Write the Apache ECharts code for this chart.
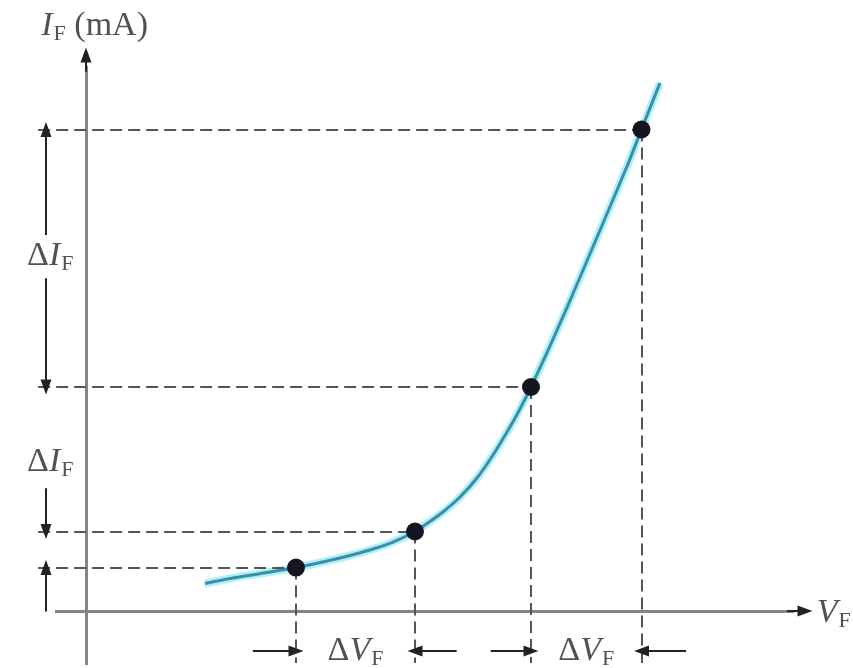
<!DOCTYPE html>
<html>
<head>
<meta charset="utf-8">
<script src="https://cdn.jsdelivr.net/npm/echarts@6/dist/echarts.min.js"></script>
<style>html,body{margin:0;padding:0;background:#fff}#c{width:853px;height:668px}</style>
</head>
<body>
<div id="c"></div>
<script>
// Diode forward characteristic (arbitrary units)
const curveV = [16.55, 20.45, 25.17, 29.21, 33.52, 36.72, 39.92, 42.70, 45.76, 47.84, 49.65, 52.02, 54.38, 56.61, 58.97, 60.36, 61.89, 64.53, 67.59, 71.21, 75.38, 77.26, 79.83];
const curveI = [4.95, 5.94, 6.92, 7.82, 8.99, 9.98, 11.15, 12.41, 14.30, 16.10, 17.81, 20.50, 23.92, 28.06, 33.09, 36.33, 40.29, 47.66, 56.65, 67.63, 80.40, 86.60, 94.96];
const pointV = [29.21, 45.76, 61.89, 77.26];
const pointI = [7.82, 14.30, 40.29, 86.60];
const axisTitleY = 'I_F (mA)';
const axisTitleX = 'V_F';
const deltaI = 'ΔI_F';
const deltaV = 'ΔV_F';

const X_MIN = -6.95, X_MAX = 100, Y_MIN = -9.71, Y_MAX = 100;
const Y_GUIDE_BOTTOM = -9.35;
const X_ARROW_I = -5.56;   // vertical ΔI arrows
const Y_ARROW_V = -7.2;    // horizontal ΔV arrows

const curve = curveV.map((v, i) => [v, curveI[i]]);
const pts = pointV.map((v, i) => [v, pointI[i]]);

const serif = '"Liberation Serif","DejaVu Serif",serif';
const txt = '#262626';
const rich = {
  d: {fontFamily: serif, fontSize: 34, color: txt},
  i: {fontFamily: serif, fontSize: 34, fontStyle: 'italic', color: txt},
  s: {fontFamily: serif, fontSize: 22, color: txt, padding: [16, 0, 0, 1]},
  n: {fontFamily: serif, fontSize: 34, color: txt}
};
function fmt(t) {
  let out = '';
  const m = t.match(/^(Δ?)([A-Z])_([A-Z])(.*)$/);
  if (m) {
    if (m[1]) out += '{d|Δ}';
    out += '{i|' + m[2] + '}{s|' + m[3] + '}';
    if (m[4]) out += '{n|' + m[4] + '}';
  }
  return out;
}

// guide (dashed) lines
const guides = [];
pts.forEach(p => {
  guides.push([{coord: [X_MIN + 0.3, p[1]]}, {coord: [p[0], p[1]]}]);
  guides.push([{coord: [p[0], p[1]]}, {coord: [p[0], Y_GUIDE_BOTTOM]}]);
});

// annotation arrows
const [p1, p2, p3, p4] = pts;
const arrows = [
  [{coord: [X_ARROW_I, (p3[1] + p4[1]) / 2 + 4.2]}, {coord: [X_ARROW_I, p4[1]]}],
  [{coord: [X_ARROW_I, (p3[1] + p4[1]) / 2 - 3.6]}, {coord: [X_ARROW_I, p3[1]]}],
  [{coord: [X_ARROW_I, p2[1] + 7.8]}, {coord: [X_ARROW_I, p2[1]]}],
  [{coord: [X_ARROW_I, p1[1] - 7.9]}, {coord: [X_ARROW_I, p1[1]]}],
  [{coord: [p1[0] - 6.0, Y_ARROW_V]}, {coord: [p1[0], Y_ARROW_V]}],
  [{coord: [p2[0] + 5.8, Y_ARROW_V]}, {coord: [p2[0], Y_ARROW_V]}],
  [{coord: [p3[0] - 5.6, Y_ARROW_V]}, {coord: [p3[0], Y_ARROW_V]}],
  [{coord: [p4[0] + 6.2, Y_ARROW_V]}, {coord: [p4[0], Y_ARROW_V]}],
  // axis arrowheads
  [{coord: [0, Y_MAX - 3]}, {coord: [0, Y_MAX]}],
  [{coord: [X_MAX - 2.5, 0]}, {coord: [X_MAX, 0]}]
];

const labels = [
  {value: [X_ARROW_I + 0.6, (p3[1] + p4[1]) / 2 + 0.4], text: deltaI},
  {value: [X_ARROW_I + 0.6, p2[1] + 12.5], text: deltaI},
  {value: [(p1[0] + p2[0]) / 2, Y_ARROW_V], text: deltaV},
  {value: [(p3[0] + p4[0]) / 2, Y_ARROW_V], text: deltaV},
  {value: [1.2, 105.2], text: axisTitleY},
  {value: [104.0, -0.4], text: axisTitleX}
];

const chart = echarts.init(document.getElementById('c'), null, {renderer: 'canvas'});
chart.setOption({
  animation: false,
  grid: {left: 36, right: 48, top: 55, bottom: 3},
  xAxis: {type: 'value', min: X_MIN, max: X_MAX, show: false},
  yAxis: {type: 'value', min: Y_MIN, max: Y_MAX, show: false},
  series: [
    { // axes
      type: 'line', data: [], clip: false, silent: true,
      markLine: {
        silent: true, symbol: ['none', 'none'], label: {show: false}, animation: false,
        lineStyle: {color: '#858585', width: 3, type: 'solid'},
        data: [
          [{coord: [0, Y_MIN]}, {coord: [0, Y_MAX - 2]}],
          [{coord: [-4.3, 0]}, {coord: [X_MAX - 1.5, 0]}]
        ]
      }
    },
    { // dashed guides
      type: 'line', data: [], clip: false, silent: true,
      markLine: {
        silent: true, symbol: ['none', 'none'], label: {show: false}, animation: false,
        lineStyle: {color: '#555', width: 2, type: [12, 6]},
        data: guides
      }
    },
    { // arrows
      type: 'line', data: [], clip: false, silent: true,
      markLine: {
        silent: true, symbol: ['none', 'triangle'], symbolSize: [11, 15], label: {show: false}, animation: false,
        lineStyle: {color: '#222', width: 2, type: 'solid'},
        data: arrows
      }
    },
    { // glow
      type: 'line', data: curve, smooth: 0.25, showSymbol: false, clip: false, silent: true,
      lineStyle: {color: 'rgba(150,235,250,0.75)', width: 8}, z: 3
    },
    { // curve
      type: 'line', data: curve, smooth: 0.25, showSymbol: false, clip: false, silent: true,
      lineStyle: {color: '#3a8fa6', width: 3}, z: 4
    },
    { // points
      type: 'scatter', data: pts, symbolSize: 18, clip: false, silent: true,
      itemStyle: {color: '#15151f', opacity: 1}, z: 5
    },
    { // labels
      type: 'scatter', data: labels, symbolSize: 0, clip: false, silent: true, z: 6,
      label: {
        show: true, position: 'inside',
        formatter: p => fmt(p.data.text),
        rich: rich
      }
    }
  ]
});
</script>
</body>
</html>
